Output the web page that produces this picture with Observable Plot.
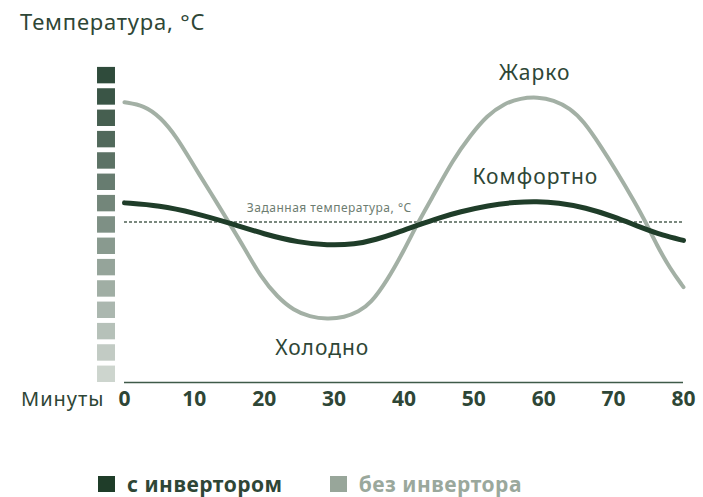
<!DOCTYPE html>
<html>
<head>
<meta charset="utf-8">
<script src="https://cdn.jsdelivr.net/npm/d3@7"></script>
<script src="https://cdn.jsdelivr.net/npm/@observablehq/plot@0.6"></script>
<style>
  html, body { margin: 0; padding: 0; background: #fff; }
  body { width: 703px; height: 497px; position: relative; overflow: hidden; font-family: "Noto Sans", sans-serif; color: #2e4636; }
  #title { position: absolute; left: 20px; top: 6px; font-size: 22px; letter-spacing: 0.8px; color: #2e4636; line-height: 30px; }
  #chart { position: absolute; left: 0; top: 48px; }
  #legend { position: absolute; left: 98px; top: 473px; display: flex; align-items: center; font-size: 21px; font-weight: bold; letter-spacing: 0.5px; line-height: 22px; }
  .sw { display: inline-block; width: 17px; height: 16px; margin-right: 12px; }
  .item { display: flex; align-items: center; margin-right: 47px; }
</style>
</head>
<body>
<div id="title">Температура, °C</div>
<div id="chart"></div>
<div id="legend"></div>
<script>
// ---- data ----
const minutes = [0, 10, 20, 30, 40, 50, 60, 70, 80];
const setTemperature = 7.52;
const levels = [0,1,2,3,4,5,6,7,8,9,10,11,12,13,14];

const withInverterX = [0, 5, 10, 15, 20, 25, 29, 33, 36, 39, 42, 45, 48, 52, 56, 59, 62, 66, 70, 74, 77, 80];
const withInverterY = [8.42, 8.3, 7.95, 7.48, 6.95, 6.56, 6.43, 6.47, 6.7, 7.02, 7.38, 7.72, 8.0, 8.3, 8.46, 8.49, 8.43, 8.2, 7.78, 7.25, 6.9, 6.66];

const withoutInverterX = [0, 2.8, 5.15, 7.5, 9.9, 12.3, 14.9, 17.1, 19.5, 21.9, 24.2, 26.5, 29, 31.5, 33.5, 35.2, 37.6, 40.0, 41.9, 43.8, 47.1, 49.5, 51.9, 54.3, 56.7, 59.1, 61.4, 63.8, 65.7, 68.1, 70.5, 72.9, 74.6, 76.2, 78.1, 80];
const withoutInverterY = [13.14, 12.99, 12.44, 11.5, 10.17, 8.92, 7.52, 6.34, 4.94, 4.0, 3.38, 3.08, 2.97, 3.05, 3.32, 3.69, 4.78, 6.19, 7.44, 8.53, 10.49, 11.58, 12.52, 13.07, 13.33, 13.38, 13.25, 12.85, 12.25, 11.11, 9.86, 8.53, 7.52, 6.42, 5.33, 4.47];

const zoneLabels = ["Жарко", "Комфортно", "Холодно"];
const zoneX = [58.7, 58.8, 28.3];
const zoneY = [14.5, 9.6, 1.6];
const setLabel = "Заданная температура, °C";
const setLabelX = 29.3;
const setLabelY = 8.18;
const seriesNames = ["с инвертором", "без инвертора"];
const xLabel = "Минуты";

// ---- styles ----
const DARK = "#1f3d29";
const GRAY = "#a3b0a5";
const TEXT = "#2e4636";

const withInv = withInverterX.map((x, i) => ({x, y: withInverterY[i]}));
const withoutInv = withoutInverterX.map((x, i) => ({x, y: withoutInverterY[i]}));
const zones = zoneLabels.map((t, i) => ({t, x: zoneX[i], y: zoneY[i]}));

const chart = Plot.plot({
  width: 703,
  height: 372,
  marginLeft: 124,
  marginRight: 20,
  marginTop: 14,
  marginBottom: 38,
  style: {fontFamily: "Noto Sans, sans-serif", color: TEXT, background: "transparent", overflow: "visible"},
  x: {domain: [0, 80], label: null},
  y: {domain: [0, 15], axis: null},
  color: {type: "linear", domain: [0, 14], range: ["#cdd5ce", "#2f4b3b"]},
  marks: [
    Plot.rect(levels, {x1: -3.86, x2: -1.29, y1: d => d, y2: d => d + 0.77, fill: d => d}),
    Plot.ruleY([0], {stroke: "#3f5a49", strokeWidth: 1.5}),
    Plot.ruleY([setTemperature], {stroke: "#7a887e", strokeWidth: 2, strokeDasharray: "3,2"}),
    Plot.text([setLabel], {x: setLabelX, y: setLabelY, text: d => d, fontSize: 12, fill: "#6d7d71", className: "small"}),
    Plot.line(withoutInv, {x: "x", y: "y", stroke: GRAY, strokeWidth: 4, curve: "basis"}),
    Plot.line(withInv, {x: "x", y: "y", stroke: DARK, strokeWidth: 5, curve: "basis"}),
    Plot.text(zones, {x: "x", y: "y", text: "t", fontSize: 21, fill: TEXT, className: "big"}),
    Plot.axisX({ticks: minutes, tickSize: 0, tickPadding: 9, fontSize: 21, fontWeight: "bold", fill: TEXT, label: null, tickFormat: d => String(d)}),
    Plot.text([xLabel], {x: 0, y: 0, text: d => d, dx: -20, dy: 9, textAnchor: "end", lineAnchor: "top", fontSize: 20, fill: TEXT, className: "big"})
  ]
});
document.getElementById("chart").appendChild(chart);
chart.querySelectorAll("g.small text").forEach(t => t.style.letterSpacing = "0.5px");
chart.querySelectorAll("g.big text").forEach(t => t.style.letterSpacing = "1px");

const legend = document.getElementById("legend");
const legendColors = [DARK, "#98a69a"];
const legendText = [TEXT, "#9aa89c"];
seriesNames.forEach((n, i) => {
  const item = document.createElement("div");
  item.className = "item";
  item.innerHTML = `<span class="sw" style="background:${legendColors[i]}"></span><span style="color:${legendText[i]}">${n}</span>`;
  legend.appendChild(item);
});
</script>
</body>
</html>
